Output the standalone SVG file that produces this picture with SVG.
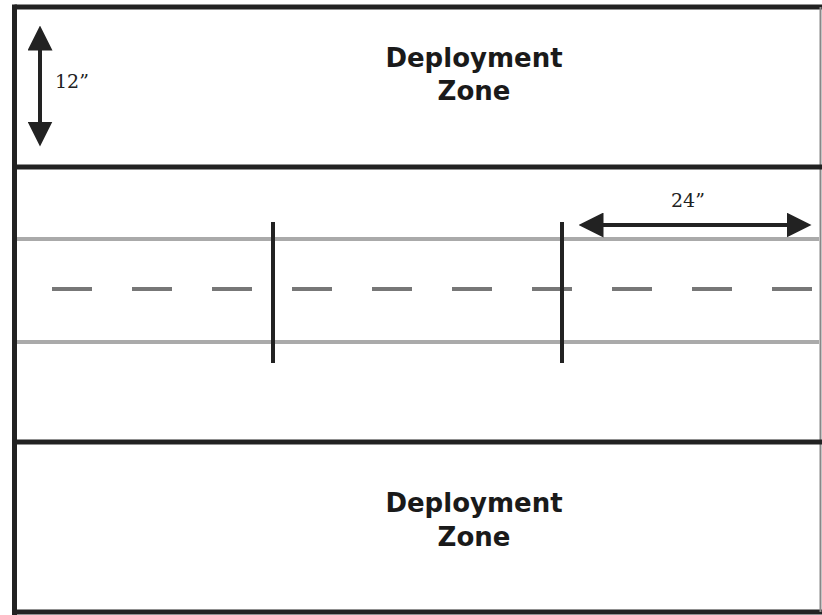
<svg xmlns="http://www.w3.org/2000/svg" width="822" height="615" viewBox="0 0 822 615">
<defs>
<style>
.frame{stroke:#222;stroke-width:5;fill:none}
.edge{stroke:#888;stroke-width:2;fill:none}
.lane{stroke:#aaa;stroke-width:4;fill:none}
.dash{stroke:#777;stroke-width:4;stroke-dasharray:40 40;fill:none}
.post{stroke:#222;stroke-width:4;fill:none}
.dim{stroke:#222;stroke-width:4;fill:none}
.zone{font-family:"DejaVu Sans",Verdana,sans-serif;font-weight:bold;font-size:26px;fill:#1a1a1a;text-anchor:middle}
.meas{font-family:"DejaVu Serif","Liberation Serif",serif;font-size:19px;fill:#222}
</style>
<marker id="ah" viewBox="0 0 10 10" refX="5" refY="5" markerWidth="25" markerHeight="25" markerUnits="userSpaceOnUse" orient="auto-start-reverse">
<path d="M0,0 L10,5 L0,10 Z" fill="#222"/>
</marker>
</defs>
<rect width="822" height="615" fill="#fff"/>
<g id="board">
<line class="frame" x1="14.5" y1="7" x2="822" y2="7"/>
<line class="frame" x1="14.5" y1="4.5" x2="14.5" y2="615"/>
<line class="frame" x1="12" y1="612" x2="822" y2="612"/>
<line class="edge" x1="820.5" y1="7" x2="820.5" y2="612"/>
</g>
<g id="deploy-top">
<line class="frame" x1="12" y1="167" x2="822" y2="167"/>
<text class="zone" x="474" y="67">Deployment</text>
<text class="zone" x="474" y="100">Zone</text>
</g>
<g id="deploy-bottom">
<line class="frame" x1="12" y1="442" x2="822" y2="442"/>
<text class="zone" x="474" y="512">Deployment</text>
<text class="zone" x="474" y="546">Zone</text>
</g>
<g id="midfield">
<line class="lane" x1="17" y1="239" x2="819" y2="239"/>
<line class="lane" x1="17" y1="342" x2="819" y2="342"/>
<line class="dash" x1="52" y1="289" x2="812" y2="289"/>
<line class="post" x1="273" y1="222" x2="273" y2="363"/>
<line class="post" x1="562" y1="222" x2="562" y2="363"/>
</g>
<g id="connectors">
<line class="dim" x1="40" y1="38" x2="40" y2="134" marker-start="url(#ah)" marker-end="url(#ah)"/>
<line class="dim" x1="591" y1="225" x2="799" y2="225" marker-start="url(#ah)" marker-end="url(#ah)"/>
</g>
<g id="labels">
<text class="meas" x="55" y="88">12”</text>
<text class="meas" x="671" y="207">24”</text>
</g>
</svg>
